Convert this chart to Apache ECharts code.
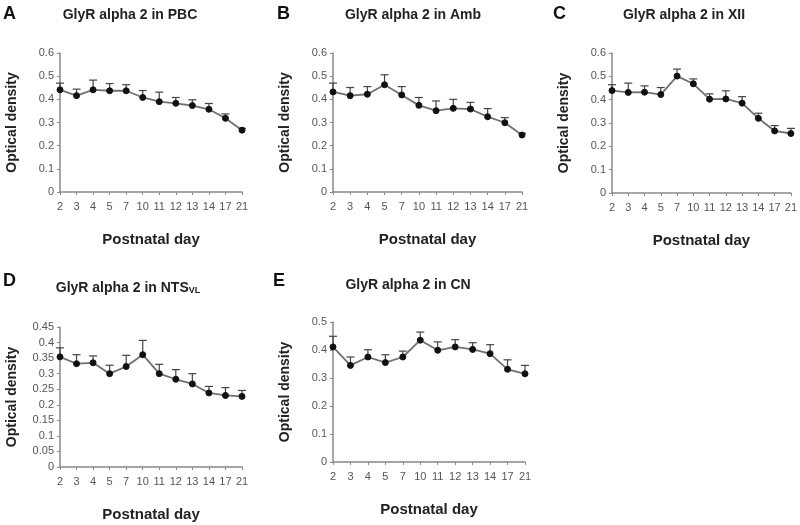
<!DOCTYPE html>
<html><head><meta charset="utf-8">
<script src="https://cdn.jsdelivr.net/npm/echarts@6/dist/echarts.min.js"></script>
<style>html,body{margin:0;padding:0;background:#fff}#c{width:800px;height:525px}</style>
</head><body><div id="c"></div>
<script>
const days = ['2','3','4','5','7','10','11','12','13','14','17','21'];

const pbcMean = [0.441,0.416,0.441,0.437,0.437,0.408,0.390,0.383,0.373,0.357,0.318,0.267];
const pbcErr  = [0.029,0.028,0.042,0.031,0.026,0.030,0.041,0.025,0.025,0.025,0.019,0.008];

const ambMean = [0.432,0.416,0.422,0.463,0.419,0.374,0.351,0.361,0.358,0.325,0.299,0.246];
const ambErr  = [0.038,0.035,0.033,0.043,0.036,0.034,0.042,0.039,0.029,0.035,0.022,0.007];

const xiiMean = [0.439,0.431,0.432,0.422,0.501,0.468,0.402,0.403,0.385,0.320,0.266,0.255];
const xiiErr  = [0.025,0.040,0.027,0.030,0.030,0.021,0.023,0.035,0.028,0.022,0.023,0.022];

const ntsMean = [0.354,0.332,0.335,0.300,0.323,0.361,0.300,0.282,0.267,0.238,0.230,0.227];
const ntsErr  = [0.029,0.029,0.022,0.027,0.036,0.046,0.030,0.031,0.033,0.021,0.025,0.019];

const cnMean = [0.411,0.345,0.375,0.355,0.375,0.435,0.399,0.411,0.402,0.387,0.331,0.315];
const cnErr  = [0.038,0.030,0.026,0.028,0.021,0.029,0.030,0.026,0.024,0.032,0.034,0.030];

const panels = [
  {letter:'A', title:'GlyR alpha 2 in PBC', mean:pbcMean, err:pbcErr, yMax:0.6, yInt:0.1,
   grid:{left:60, top:53, width:182, height:139}, titleX:130, titleY:15, letterX:3, letterY:14},
  {letter:'B', title:'GlyR alpha 2 in Amb', mean:ambMean, err:ambErr, yMax:0.6, yInt:0.1,
   grid:{left:333, top:53, width:189, height:139}, titleX:413, titleY:15, letterX:277, letterY:14},
  {letter:'C', title:'GlyR alpha 2 in XII', mean:xiiMean, err:xiiErr, yMax:0.6, yInt:0.1,
   grid:{left:612, top:53, width:181, height:140}, titleX:684, titleY:15, letterX:553, letterY:14},
  {letter:'D', title:'GlyR alpha 2 in NTS{sub|VL}', mean:ntsMean, err:ntsErr, yMax:0.45, yInt:0.05,
   grid:{left:60, top:327, width:182, height:140}, titleX:128, titleY:288, letterX:3, letterY:281},
  {letter:'E', title:'GlyR alpha 2 in CN', mean:cnMean, err:cnErr, yMax:0.5, yInt:0.1,
   grid:{left:333, top:322, width:192, height:140}, titleX:408, titleY:285, letterX:273, letterY:281}
];

const FONT = 'Liberation Sans, Arial, sans-serif';
const grids = [], xAxes = [], yAxes = [], series = [], graphics = [];

panels.forEach((p, i) => {
  grids.push(Object.assign({containLabel:false}, p.grid));
  xAxes.push({
    type:'category', gridIndex:i, data:days, boundaryGap:false,
    name:'Postnatal day', nameLocation:'middle', nameGap:40,
    nameTextStyle:{fontFamily:FONT, fontWeight:'bold', fontSize:15, color:'#222'},
    axisLine:{lineStyle:{color:'#888', width:1.5}},
    axisTick:{show:true, length:3, alignWithLabel:true, lineStyle:{color:'#888'}},
    axisLabel:{fontFamily:FONT, fontSize:11, color:'#555', margin:9, interval:0}
  });
  yAxes.push({
    type:'value', gridIndex:i, min:0, max:p.yMax, interval:p.yInt,
    name:'Optical density', nameLocation:'middle', nameGap:41,
    nameTextStyle:{fontFamily:FONT, fontWeight:'bold', fontSize:14, color:'#222'},
    axisLine:{show:true, lineStyle:{color:'#888', width:1.5}},
    axisTick:{show:true, length:3, lineStyle:{color:'#888'}},
    splitLine:{show:false},
    axisLabel:{fontFamily:FONT, fontSize:11, color:'#555', margin:6,
      formatter: v => String(Math.round(v*100)/100)}
  });
  series.push({
    type:'custom', xAxisIndex:i, yAxisIndex:i, z:1,
    data: p.mean.map((m, k) => [k, m, m + p.err[k]]),
    renderItem: (params, api) => {
      const a = api.coord([api.value(0), api.value(1)]);
      const b = api.coord([api.value(0), api.value(2)]);
      const st = {stroke:'#444', lineWidth:1.2};
      return {type:'group', children:[
        {type:'line', shape:{x1:a[0], y1:a[1], x2:b[0], y2:b[1]}, style:st},
        {type:'line', shape:{x1:b[0]-4, y1:b[1], x2:b[0]+4, y2:b[1]}, style:st}
      ]};
    }
  });
  series.push({
    type:'line', xAxisIndex:i, yAxisIndex:i, z:3, data:p.mean,
    symbol:'circle', symbolSize:6,
    lineStyle:{color:'#707070', width:1.8},
    itemStyle:{color:'#111', borderColor:'#111'},
    animation:false
  });
  graphics.push({type:'text', x:p.titleX, y:p.titleY,
    style:{text:p.title, font:'bold 14px '+FONT, fill:'#222', textAlign:'center', textVerticalAlign:'middle',
      rich:{sub:{font:'bold 9px '+FONT, fill:'#222', verticalAlign:'bottom', padding:[6,0,0,0]}}}});
  graphics.push({type:'text', x:p.letterX, y:p.letterY,
    style:{text:p.letter, font:'bold 18px '+FONT, fill:'#111', textAlign:'left', textVerticalAlign:'middle'}});
});

const chart = echarts.init(document.getElementById('c'), null, {renderer:'canvas'});
chart.setOption({
  animation:false, backgroundColor:'#fff',
  grid:grids, xAxis:xAxes, yAxis:yAxes, series:series, graphic:graphics
});
</script></body></html>
